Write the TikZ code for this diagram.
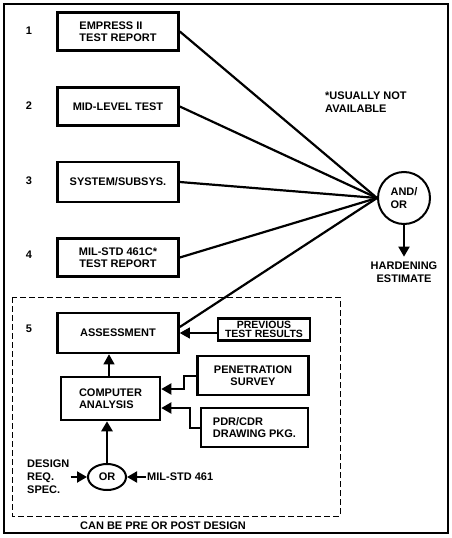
\documentclass[tikz,border=0pt]{standalone}
\usepackage{fontspec}
\setmainfont{Liberation Sans}
\usetikzlibrary{arrows.meta,shapes.geometric}
\begin{document}
\begin{tikzpicture}[x=1pt,y=-1pt,
  lbl/.style={font=\bfseries\fontsize{11}{12.5}\selectfont, inner sep=1pt},
  blk/.style={draw, line width=2.6pt, minimum width=121pt, minimum height=38pt, inner sep=0pt, lbl, align=center},
  sbox/.style={draw, line width=2.6pt, inner sep=0pt, lbl},
  feed/.style={line width=2.2pt},
  arr/.style={line width=2pt, -{Triangle[length=10pt,width=11pt]}}]
\useasboundingbox (0,0) rectangle (452,538);
\draw[line width=1.6pt] (4,4) rectangle (448,533);
\draw[line width=0.9pt, dash pattern=on 6pt off 3pt] (12,297) rectangle (340,516);
\foreach \n/\y in {1/31, 2/106, 3/181, 4/255, 5/329}
  \node[lbl] (n\n) at (29,\y) {\n};
\node[blk, align=left] (b1) at (118,31.5) {EMPRESS II\\TEST REPORT};
\node[blk] (b2) at (118,106.5) {MID-LEVEL TEST};
\node[blk, minimum height=40pt] (b3) at (118,182) {SYSTEM/SUBSYS.};
\node[blk] (b4) at (118,257.5) {MIL-STD 461C*\\TEST REPORT};
\node[blk, minimum height=40pt] (b5) at (118,333) {ASSESSMENT};
\node[draw, circle, line width=2pt, minimum size=52pt, inner sep=0pt, lbl, align=left] (andor) at (404,198) {AND/\\OR};
\node[lbl, align=center] (hard) at (404,272) {HARDENING\\ESTIMATE};
\node[lbl, align=left, anchor=west] (note) at (324,102) {*USUALLY NOT\\AVAILABLE};
\foreach \b in {b1,b2,b3,b4}
  \draw[feed] (\b.east) -- (andor.west);
\draw[feed] ([yshift=6pt]b5.east) -- (andor.west);
\draw[arr] (andor.south) -- ([yshift=4pt]hard.north);
\node[sbox, minimum width=92pt, minimum height=22pt, align=center, font=\bfseries\fontsize{10.5}{9}\selectfont] (prev) at (264,329.5) {PREVIOUS\\TEST RESULTS};
\node[sbox, minimum width=111pt, minimum height=39pt, align=center] (pen) at (253,375.5) {PENETRATION\\SURVEY};
\node[sbox, minimum width=107pt, minimum height=39pt, align=left] (pdr) at (254.5,427.5) {PDR/CDR\\DRAWING PKG.};
\node[sbox, minimum width=99pt, minimum height=43pt, align=left] (comp) at (110.5,398.5) {COMPUTER\\ANALYSIS};
\node[draw, ellipse, line width=2pt, minimum width=38pt, minimum height=26pt, inner sep=0pt, lbl] (or) at (107,477) {OR};
\node[lbl, align=left, anchor=west, font=\bfseries\fontsize{11}{13}\selectfont] (des) at (26,477) {DESIGN\\REQ.\\SPEC.};
\node[lbl, anchor=west] (mil) at (146,477) {MIL-STD 461};
\node[lbl] (pre) at (163,526) {CAN BE PRE OR POST DESIGN};
\draw[arr, line width=1.2pt] ([yshift=-3.5pt]prev.west) -- ([yshift=-3.5pt]prev.west -| b5.east);
\draw[arr, line width=1.2pt] (comp.north -| 109,0) -- (b5.south -| 109,0);
\draw[arr] (pen.west) -- ++(-12,0) |- ([yshift=9.5pt]comp.east);
\draw[arr] (pdr.west) -- ++(-10,0) |- ([yshift=-9.5pt]comp.east);
\draw[arr, line width=2.6pt] (or.north) -- (or.north |- comp.south);
\draw[arr] (des.east) -- (or.west);
\draw[arr] (mil.west) -- (or.east);
\end{tikzpicture}
\end{document}
